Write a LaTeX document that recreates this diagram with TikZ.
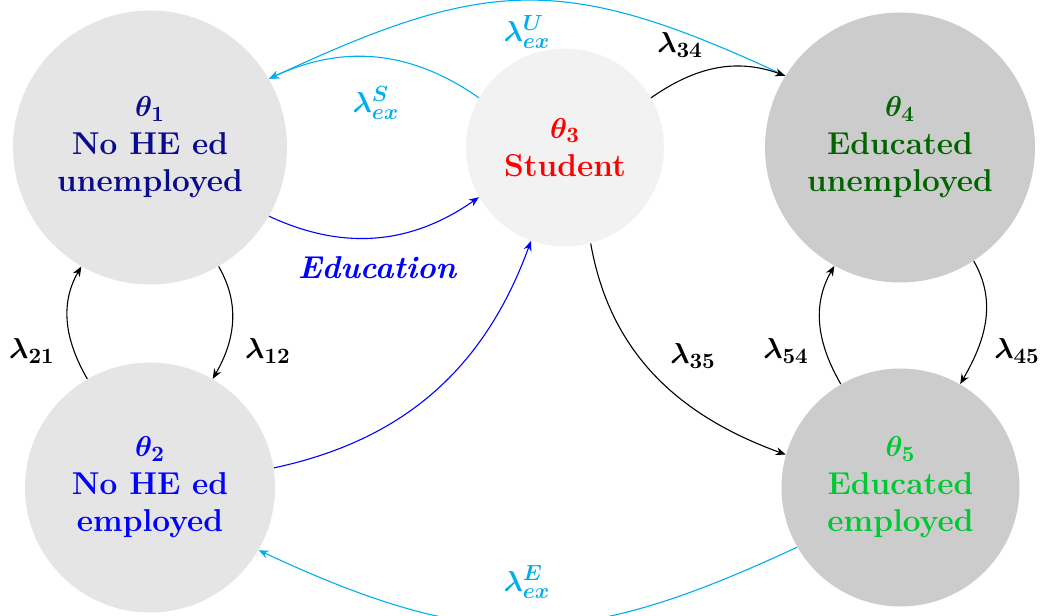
\documentclass[tikz,border=0pt]{standalone}
\usepackage{amsmath,bm}
\usetikzlibrary{arrows.meta}
\definecolor{cyanx}{RGB}{0,174,239}
\definecolor{navyx}{RGB}{10,10,140}
\definecolor{dgreen}{RGB}{0,100,0}
\definecolor{lgreen}{RGB}{0,200,50}
\tikzset{
  state/.style={circle, inner sep=0pt, align=center, font=\fontsize{15.8}{18.8}\selectfont\bfseries},
  lbl/.style={font=\fontsize{15.8}{18.8}\selectfont, inner sep=0pt},
  conn/.style={line width=0.55pt, -{Stealth[length=5pt,width=4pt]}},
}
\begin{document}
\begin{tikzpicture}[x=0.5pt,y=0.5pt]
\useasboundingbox (0,0) rectangle (1051,-616);
\node[state, fill=gray!20, text=navyx, minimum size=137pt] (n1) at (150,-147.5)
  {$\bm{\theta_1}$\\No HE ed\\unemployed};
\node[state, fill=gray!20, text=blue, minimum size=125pt] (n2) at (150,-487.5)
  {$\bm{\theta_2}$\\No HE ed\\employed};
\node[state, fill=gray!10, text=red, minimum size=99pt] (n3) at (565,-147.5)
  {$\bm{\theta_3}$\\Student};
\node[state, fill=gray!40, text=dgreen, minimum size=135pt] (n4) at (900,-147.5)
  {$\bm{\theta_4}$\\Educated\\unemployed};
\node[state, fill=gray!40, text=lgreen, minimum size=119pt] (n5) at (900.5,-487.5)
  {$\bm{\theta_5}$\\Educated\\employed};

% exits
\draw[conn, cyanx] (n4.148) to[out=155,in=25,looseness=1.2] (n1.30);
\draw[conn, cyanx] (n3.150) to[out=145,in=25] (n1.30);
\draw[conn, cyanx] (n5.210) to[out=-155,in=-25,looseness=1.15] (n2.-30);
\node[lbl, text=cyanx] (lu) at (527,-32) {$\bm{\lambda^{U}_{ex}}$};
\node[lbl, text=cyanx] (ls) at (376,-103) {$\bm{\lambda^{S}_{ex}}$};
\node[lbl, text=cyanx] (le) at (527,-582) {$\bm{\lambda^{E}_{ex}}$};

% education
\draw[conn, blue] (n1.-30) to[out=-25,in=-145] (n3.210);
\draw[conn, blue] (n2.9) to[out=12,in=-110] (n3.250);
\node[lbl, text=blue] (led) at (377,-268) {\bfseries\itshape Education};

% black transitions
\draw[conn] (n3.30) to[out=35,in=160] (n4.148);
\node[lbl] (l34) at (680,-45) {$\bm{\lambda_{34}}$};
\draw[conn] (n3.-75) to[out=-80,in=160] (n5.164);
\node[lbl] (l35) at (693,-356) {$\bm{\lambda_{35}}$};
\draw[conn] (n1.-60) to[out=-60,in=60] (n2.60);
\node[lbl] (l12) at (268,-351) {$\bm{\lambda_{12}}$};
\draw[conn] (n2.120) to[out=120,in=-120] (n1.-120);
\node[lbl] (l21) at (32,-351) {$\bm{\lambda_{21}}$};
\draw[conn] (n4.-57) to[out=-60,in=60] (n5.60);
\node[lbl] (l45) at (1017,-351) {$\bm{\lambda_{45}}$};
\draw[conn] (n5.120) to[out=120,in=-120] (n4.-119);
\node[lbl] (l54) at (786,-351) {$\bm{\lambda_{54}}$};
\end{tikzpicture}
\end{document}
